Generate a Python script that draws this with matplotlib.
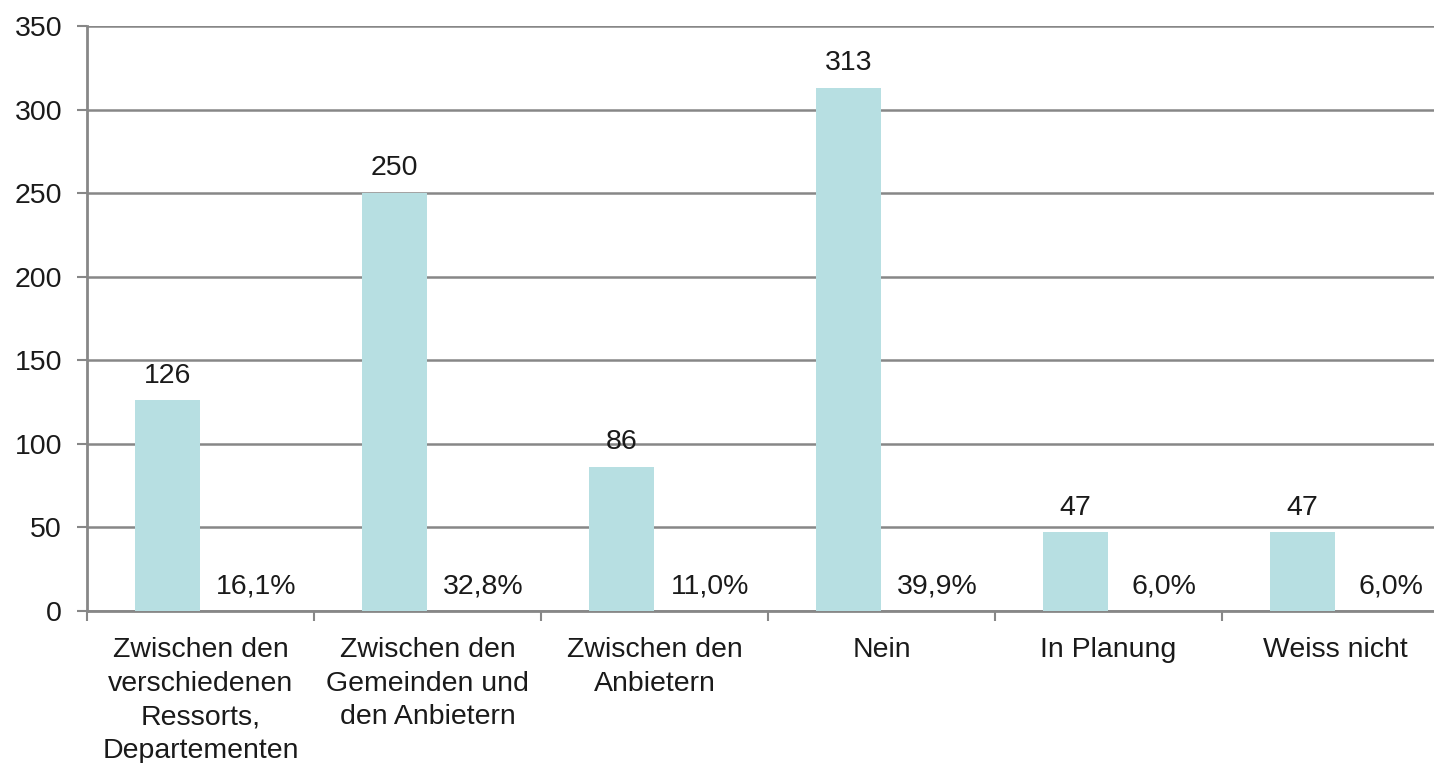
import matplotlib

matplotlib.use("Agg")
import matplotlib.pyplot as plt
import numpy as np

matplotlib.rcParams["font.family"] = ["Liberation Sans", "DejaVu Sans"]

categories = [
    "Zwischen den\nverschiedenen\nRessorts,\nDepartementen",
    "Zwischen den\nGemeinden und\nden Anbietern",
    "Zwischen den\nAnbietern",
    "Nein",
    "In Planung",
    "Weiss nicht",
]
counts = [126, 250, 86, 313, 47, 47]
shares = ["16,1%", "32,8%", "11,0%", "39,9%", "6,0%", "6,0%"]
y_ticks = [0, 50, 100, 150, 200, 250, 300, 350]

BAR_COLOR = "#b7dfe2"
AXIS_GRAY = "#878787"
TEXT = "#1a1a1a"
FS = 20.5

fig = plt.figure(figsize=(14.34, 7.63), dpi=100)
ax = fig.add_axes([0.0607, 0.1992, 0.9498, 0.7667])

x = np.arange(len(categories))
bar_w = 65 / 227
ax.bar(x - 0.145, counts, width=bar_w, color=BAR_COLOR, zorder=3)

for xi, val, share in zip(x, counts, shares):
    ax.annotate(str(val), (xi - 0.145, val), xytext=(0, 8.5), textcoords="offset points",
                ha="center", va="bottom", fontsize=FS, color=TEXT)
    ax.annotate(share, (xi + 0.245, 0), xytext=(0, 8.5), textcoords="offset points",
                ha="center", va="bottom", fontsize=FS, color=TEXT)

ax.set_xlim(-0.5, len(categories) - 0.5)
ax.set_ylim(0, 350)
ax.set_yticks(y_ticks)
ax.yaxis.grid(True, color=AXIS_GRAY, linewidth=1.8, zorder=0)
ax.set_axisbelow(True)

# Kategorienbeschriftung mittig, Tickstriche an den Kategoriegrenzen
ax.set_xticks(x)
ax.set_xticklabels(categories, fontsize=FS, color=TEXT, linespacing=1.37)
ax.tick_params(axis="x", length=0, pad=19)
ax.set_xticks(np.arange(len(categories) + 1) - 0.5, minor=True)
ax.tick_params(axis="x", which="minor", length=7, width=1.5, color=AXIS_GRAY)
ax.tick_params(axis="y", length=7, width=1.5, color=AXIS_GRAY, labelsize=FS,
               labelcolor=TEXT, pad=11)

for side in ["top", "right"]:
    ax.spines[side].set_visible(False)
for side in ["left", "bottom"]:
    ax.spines[side].set_color(AXIS_GRAY)
    ax.spines[side].set_linewidth(2)

fig.savefig("out.png", dpi=100)
